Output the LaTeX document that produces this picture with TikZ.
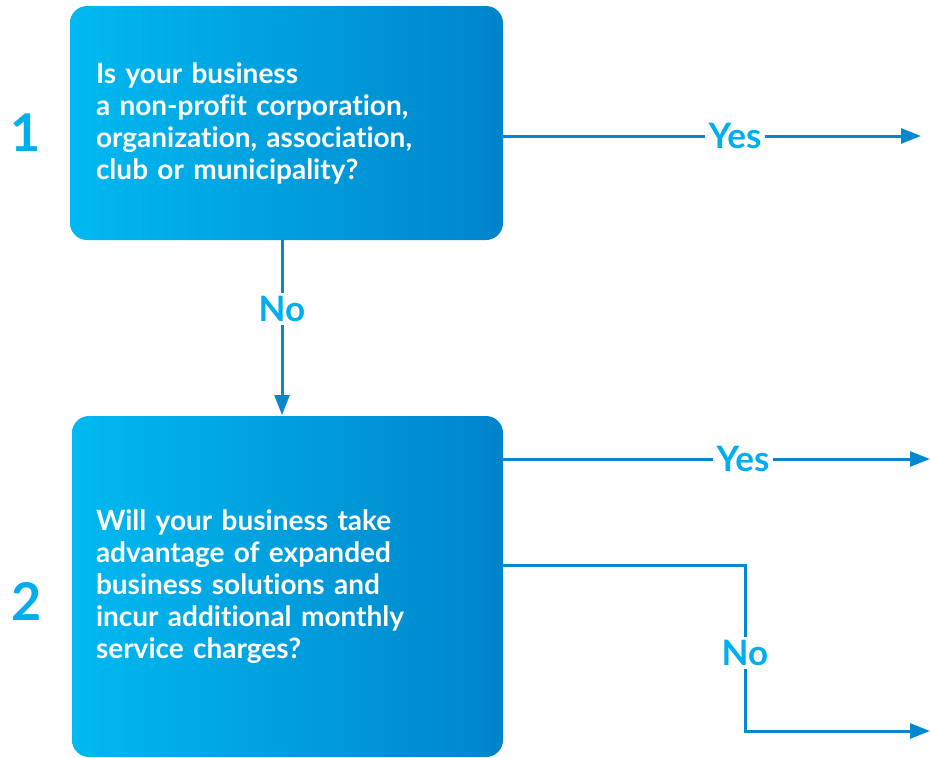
\documentclass[tikz,border=0pt]{standalone}
\usepackage{fontspec}
\setmainfont{Lato}[Ligatures={NoCommon}]
\usetikzlibrary{arrows.meta}
\definecolor{linec}{HTML}{0587CD}
\definecolor{labc}{HTML}{00AEEF}
\definecolor{gl}{HTML}{00B9F0}
\definecolor{gr}{HTML}{0084CA}
\tikzset{
  qbox/.style={rectangle, rounded corners=17pt, left color=gl, right color=gr, draw=none,
    text=white, font=\fontsize{28}{32}\selectfont\bfseries, align=left, inner xsep=26pt, inner ysep=0pt},
  numlab/.style={text=labc, font=\fontsize{52}{52}\selectfont\bfseries, inner sep=0pt},
  anslab/.style={text=labc, font=\fontsize{35}{36}\selectfont\bfseries, inner sep=3pt},
  conn/.style={draw=linec, line width=3pt},
  arr/.style={conn, -{Triangle[length=20pt,width=15pt]}}
}
\begin{document}
\begin{tikzpicture}[x=1pt,y=-1pt]
\useasboundingbox (0,0) rectangle (930,758);
\node[qbox, text width=381pt, minimum height=234pt] (b1) at (286.5,123)
  {Is your business\\a non-profit corporation,\\organization, association,\\club or municipality?};
\node[qbox, text width=383pt, minimum height=341pt, inner xsep=24pt] (b2) at (287.5,586.5)
  {Will your business take\\advantage of expanded\\business solutions and\\incur additional monthly\\service charges?};
\node[numlab] (n1) at (26,133) {1};
\node[numlab] (n2) at (27,601) {2};
% Yes 1
\coordinate (e1) at (921,136);
\node[anslab] (y1) at (735,136) {Yes};
\draw[conn] (b1.east |- e1) -- (y1);
\draw[arr] (y1) -- (e1);
% No 1
\coordinate (e2) at (282,415);
\node[anslab] (no1) at (282,309) {No};
\draw[conn] (b1.south -| no1) -- (no1);
\draw[arr] (no1) -- (e2);
% Yes 2
\coordinate (e3) at (930,459);
\node[anslab] (y2) at (743,459) {Yes};
\draw[conn] (b2.east |- e3) -- (y2);
\draw[arr] (y2) -- (e3);
% No 2
\coordinate (c1) at (745,565);
\coordinate (c2) at (745,731);
\coordinate (e4) at (930,731);
\node[anslab] (no2) at (745,653) {No};
\draw[conn] (b2.east |- c1) -- (c1) -- (no2);
\draw[arr] (no2) -- (c2) -- (e4);
\end{tikzpicture}
\end{document}
